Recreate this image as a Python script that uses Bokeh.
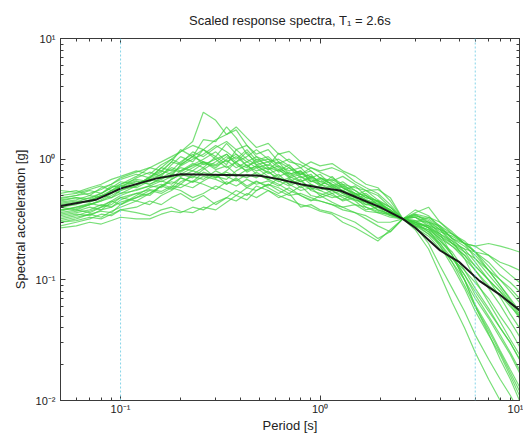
from bokeh.plotting import figure
from bokeh.models import FixedTicker, LogAxis, Span
from bokeh.embed import file_html
from bokeh.resources import INLINE

# Periods [s] at which each scaled record is read
periods = [0.05, 0.06, 0.07, 0.08, 0.09, 0.10, 0.12, 0.14, 0.16, 0.18, 0.20, 0.23, 0.26, 0.30,
           0.34, 0.38, 0.43, 0.48, 0.55, 0.62, 0.70, 0.80, 0.90, 1.0, 1.15, 1.3, 1.5, 1.7, 1.95,
           2.25, 2.6, 3.0, 3.5, 4.0, 4.6, 5.3, 6.0, 7.0, 8.0, 9.0, 10.0]

rec01 = [0.38,0.40,0.42,0.45,0.50,0.55,0.62,0.70,0.85,1.00,1.15,1.40,2.45,2.10,1.60,1.75,1.30,1.10,1.20,0.95,0.85,0.70,0.75,0.62,0.55,0.60,0.50,0.42,0.45,0.36,0.32,0.28,0.20,0.13,0.085,0.055,0.035,0.022,0.015,0.011,0.008]
rec02 = [0.45,0.48,0.47,0.52,0.60,0.58,0.70,0.78,0.72,0.90,1.05,0.95,1.20,1.05,1.35,1.10,0.95,1.05,0.85,0.80,0.90,0.72,0.65,0.70,0.62,0.55,0.60,0.50,0.42,0.38,0.32,0.35,0.30,0.26,0.20,0.17,0.15,0.12,0.10,0.085,0.070]
rec03 = [0.30,0.31,0.33,0.32,0.35,0.38,0.40,0.45,0.42,0.48,0.52,0.45,0.50,0.42,0.48,0.55,0.50,0.60,0.55,0.48,0.52,0.40,0.42,0.38,0.36,0.33,0.30,0.26,0.22,0.25,0.32,0.29,0.25,0.20,0.14,0.09,0.060,0.038,0.025,0.017,0.012]
rec04 = [0.52,0.55,0.50,0.58,0.62,0.68,0.75,0.70,0.85,0.80,0.95,1.10,0.90,1.00,0.85,0.95,1.15,0.90,0.82,0.95,0.75,0.80,0.68,0.60,0.72,0.58,0.50,0.55,0.46,0.40,0.32,0.28,0.26,0.22,0.19,0.15,0.12,0.090,0.075,0.060,0.050]
rec05 = [0.35,0.37,0.40,0.38,0.44,0.48,0.52,0.50,0.60,0.65,0.62,0.75,0.85,0.70,0.80,0.95,0.78,0.85,0.72,0.65,0.70,0.58,0.62,0.55,0.50,0.46,0.52,0.44,0.38,0.35,0.32,0.33,0.28,0.24,0.21,0.18,0.17,0.16,0.14,0.13,0.12]
rec06 = [0.40,0.42,0.46,0.50,0.48,0.55,0.60,0.72,0.80,0.75,0.88,1.00,1.10,1.30,1.15,1.00,1.20,0.98,1.05,0.88,0.80,0.85,0.70,0.75,0.60,0.65,0.55,0.48,0.45,0.40,0.32,0.30,0.27,0.21,0.16,0.11,0.075,0.050,0.035,0.025,0.018]
rec07 = [0.33,0.35,0.34,0.38,0.40,0.44,0.48,0.55,0.52,0.58,0.55,0.48,0.52,0.60,0.55,0.50,0.58,0.65,0.60,0.70,0.62,0.55,0.58,0.50,0.55,0.48,0.42,0.40,0.37,0.34,0.32,0.31,0.30,0.28,0.22,0.17,0.13,0.10,0.080,0.065,0.055]
rec08 = [0.48,0.50,0.55,0.52,0.58,0.65,0.62,0.70,0.78,0.95,1.20,1.05,1.45,1.40,1.85,1.50,1.10,0.95,1.00,0.85,0.75,0.80,0.65,0.68,0.58,0.52,0.48,0.50,0.42,0.36,0.32,0.34,0.32,0.27,0.22,0.19,0.16,0.12,0.09,0.070,0.055]
rec09 = [0.28,0.30,0.32,0.35,0.34,0.38,0.36,0.34,0.38,0.40,0.37,0.36,0.40,0.38,0.44,0.50,0.46,0.55,0.62,0.58,0.52,0.60,0.50,0.48,0.52,0.45,0.48,0.40,0.36,0.35,0.32,0.26,0.18,0.11,0.065,0.040,0.025,0.015,0.010,0.007,0.005]
rec10 = [0.42,0.44,0.48,0.52,0.58,0.62,0.68,0.65,0.75,0.85,0.80,0.92,0.85,1.05,0.90,1.20,1.00,0.90,0.95,0.78,0.85,0.75,0.80,0.70,0.62,0.58,0.52,0.50,0.45,0.37,0.32,0.35,0.33,0.28,0.24,0.20,0.17,0.14,0.11,0.095,0.080]
rec11 = [0.36,0.38,0.36,0.40,0.45,0.42,0.50,0.58,0.62,0.58,0.70,0.65,0.78,0.72,0.68,0.80,0.90,0.75,0.68,0.75,0.62,0.68,0.55,0.52,0.48,0.50,0.45,0.38,0.40,0.36,0.32,0.29,0.26,0.19,0.13,0.085,0.055,0.035,0.024,0.016,0.011]
rec12 = [0.50,0.52,0.56,0.60,0.55,0.62,0.72,0.85,0.80,0.95,0.90,1.05,1.20,1.00,1.10,0.95,1.05,1.20,1.00,0.92,1.00,0.85,0.95,0.88,0.92,0.80,0.72,0.62,0.58,0.45,0.32,0.30,0.33,0.30,0.25,0.20,0.15,0.11,0.085,0.065,0.050]
rec13 = [0.31,0.33,0.35,0.33,0.37,0.40,0.45,0.42,0.50,0.55,0.62,0.58,0.66,0.75,0.62,0.70,0.60,0.66,0.58,0.52,0.58,0.50,0.45,0.50,0.44,0.40,0.42,0.37,0.36,0.33,0.32,0.30,0.25,0.21,0.17,0.12,0.085,0.058,0.040,0.030,0.022]
rec14 = [0.44,0.46,0.50,0.48,0.55,0.60,0.58,0.66,0.72,0.70,0.80,0.88,0.95,0.85,1.00,1.10,0.88,0.80,0.85,0.72,0.78,0.65,0.70,0.62,0.58,0.62,0.52,0.46,0.42,0.38,0.32,0.33,0.29,0.25,0.23,0.20,0.19,0.16,0.13,0.11,0.095]
rec15 = [0.38,0.39,0.42,0.45,0.48,0.52,0.55,0.60,0.58,0.68,0.75,0.70,0.82,0.95,1.10,0.90,0.80,0.88,0.78,0.70,0.65,0.72,0.62,0.58,0.55,0.50,0.46,0.44,0.40,0.34,0.32,0.28,0.24,0.19,0.14,0.10,0.070,0.048,0.033,0.024,0.017]
rec16 = [0.55,0.53,0.58,0.62,0.68,0.72,0.80,0.75,0.90,1.00,0.92,1.15,1.05,1.25,1.40,1.20,1.30,1.05,0.95,1.00,0.88,0.75,0.72,0.65,0.68,0.60,0.55,0.48,0.45,0.38,0.32,0.31,0.27,0.23,0.19,0.16,0.13,0.10,0.080,0.062,0.048]
rec17 = [0.34,0.36,0.38,0.42,0.40,0.46,0.52,0.56,0.54,0.60,0.58,0.66,0.62,0.56,0.65,0.60,0.68,0.62,0.66,0.60,0.68,0.62,0.56,0.60,0.52,0.55,0.48,0.44,0.38,0.35,0.32,0.34,0.31,0.26,0.21,0.15,0.10,0.065,0.045,0.032,0.024]
rec18 = [0.40,0.43,0.45,0.50,0.55,0.52,0.60,0.68,0.75,0.82,0.78,0.90,1.00,1.15,0.95,1.05,0.88,0.95,0.82,0.88,0.72,0.65,0.72,0.65,0.60,0.55,0.50,0.52,0.44,0.37,0.32,0.30,0.27,0.24,0.20,0.16,0.12,0.085,0.062,0.045,0.034]
rec19 = [0.32,0.34,0.37,0.40,0.42,0.48,0.45,0.52,0.60,0.56,0.65,0.72,0.68,0.80,0.72,0.66,0.75,0.70,0.80,0.66,0.60,0.66,0.58,0.55,0.60,0.52,0.46,0.42,0.41,0.36,0.32,0.29,0.28,0.26,0.24,0.21,0.17,0.13,0.10,0.080,0.065]
rec20 = [0.46,0.48,0.45,0.50,0.52,0.58,0.65,0.62,0.70,0.78,0.85,0.80,0.92,0.88,0.98,0.85,0.95,0.85,0.90,0.82,0.72,0.78,0.66,0.62,0.65,0.58,0.52,0.46,0.43,0.38,0.32,0.27,0.23,0.18,0.15,0.12,0.095,0.070,0.050,0.038,0.028]
rec21 = [0.47,0.50,0.52,0.56,0.62,0.70,0.78,0.85,0.95,1.05,1.15,1.30,1.20,1.45,1.60,1.85,1.50,1.25,1.35,1.10,1.16,0.95,0.85,0.80,0.85,0.78,0.65,0.58,0.52,0.42,0.32,0.38,0.34,0.27,0.22,0.20,0.19,0.20,0.19,0.18,0.17]
rec22 = [0.27,0.28,0.30,0.29,0.31,0.33,0.32,0.32,0.35,0.37,0.36,0.40,0.38,0.44,0.48,0.45,0.52,0.48,0.55,0.50,0.46,0.42,0.40,0.37,0.35,0.30,0.27,0.24,0.21,0.26,0.32,0.30,0.27,0.22,0.16,0.10,0.062,0.040,0.026,0.018,0.013]
rec23 = [0.40,0.38,0.42,0.46,0.52,0.60,0.66,0.62,0.68,0.75,0.72,0.80,0.75,0.70,0.78,0.72,0.82,0.88,0.76,0.82,0.70,0.75,0.85,0.78,0.70,0.62,0.58,0.55,0.50,0.40,0.32,0.30,0.28,0.23,0.20,0.18,0.14,0.10,0.072,0.052,0.040]
rec24 = [0.30,0.32,0.35,0.37,0.36,0.42,0.48,0.52,0.60,0.68,0.75,0.85,0.95,0.82,0.88,0.75,0.70,0.78,0.68,0.62,0.55,0.50,0.46,0.45,0.42,0.38,0.36,0.34,0.30,0.30,0.32,0.33,0.30,0.24,0.16,0.10,0.060,0.036,0.022,0.015,0.010]
rec25 = [0.43,0.45,0.44,0.48,0.55,0.58,0.62,0.68,0.65,0.72,0.90,1.05,0.95,0.90,1.05,0.92,0.85,1.00,0.88,1.12,0.95,0.90,0.80,0.70,0.66,0.72,0.62,0.55,0.56,0.48,0.32,0.36,0.40,0.30,0.24,0.20,0.17,0.12,0.090,0.068,0.052]
rec26 = [0.37,0.40,0.43,0.41,0.45,0.50,0.56,0.60,0.66,0.62,0.70,0.64,0.72,0.68,0.62,0.68,0.58,0.55,0.62,0.55,0.50,0.52,0.48,0.45,0.42,0.40,0.36,0.32,0.28,0.25,0.32,0.29,0.24,0.20,0.15,0.11,0.080,0.055,0.040,0.030,0.022]

records = [rec01, rec02, rec03, rec04, rec05, rec06, rec07, rec08, rec09, rec10, rec11, rec12, rec13,
           rec14, rec15, rec16, rec17, rec18, rec19, rec20, rec21, rec22, rec23, rec24, rec25, rec26]

# Target (design) spectrum
target_T = [0.05, 0.075, 0.1, 0.15, 0.2, 0.5, 0.63, 0.8, 1.0, 1.26, 2.0, 2.6, 3.0, 4.0, 5.0, 6.3, 8.0, 10.0]
target_Sa = [0.41, 0.46, 0.57, 0.69, 0.75, 0.73, 0.68, 0.62, 0.58, 0.55, 0.40, 0.32, 0.27, 0.175, 0.14, 0.098, 0.075, 0.056]

# Period range bounds (dashed lines)
bounds = [0.1, 6.0]

x_major = [0.1, 1, 10]
x_minor = [0.05, 0.06, 0.07, 0.08, 0.09, 0.2, 0.3, 0.4, 0.5, 0.6, 0.7, 0.8, 0.9,
           2, 3, 4, 5, 6, 7, 8, 9]
x_labels = {0.1: "10\u207b\u00b9", 1: "10\u2070", 10: "10\u00b9"}
y_major = [0.01, 0.1, 1, 10]
y_minor = [0.02, 0.03, 0.04, 0.05, 0.06, 0.07, 0.08, 0.09, 0.2, 0.3, 0.4, 0.5, 0.6, 0.7, 0.8, 0.9,
           2, 3, 4, 5, 6, 7, 8, 9]
y_labels = {0.01: "10\u207b\u00b2", 0.1: "10\u207b\u00b9", 1: "10\u2070", 10: "10\u00b9"}

FONT = "Liberation Sans"
AX = "#3a3a3a"

p = figure(width=523, height=440, x_axis_type="log", y_axis_type="log",
           x_range=(0.05, 10), y_range=(0.01, 10),
           output_backend="svg", toolbar_location=None,
           title="Scaled response spectra, T\u2081 = 2.6s")
p.min_border_left = 60
p.min_border_right = 4
p.min_border_top = 38
p.min_border_bottom = 40
p.title.align = "center"
p.title.text_font = FONT
p.title.text_font_size = "13px"
p.title.text_font_style = "normal"
p.title.text_color = "#222222"
p.title.standoff = 21
p.background_fill_color = "white"
p.border_fill_color = "white"
p.outline_line_color = AX
p.outline_line_width = 1
p.xgrid.visible = False
p.ygrid.visible = False

for b in bounds:
    p.add_layout(Span(location=b, dimension="height", line_color="#86d4e8",
                      line_width=1, line_dash="2 2"))

p.multi_line(xs=[periods] * len(records), ys=records,
             line_color="#3fd23f", line_alpha=0.7, line_width=1.2)
p.line(target_T, target_Sa, line_color="#1a1a1a", line_width=2)

def style(ax, labels=None):
    ax.axis_line_color = AX
    ax.major_tick_in = 5
    ax.major_tick_out = 0
    ax.minor_tick_in = 3
    ax.minor_tick_out = 0
    ax.major_tick_line_color = AX
    ax.minor_tick_line_color = AX
    ax.major_label_text_font = FONT
    ax.major_label_text_color = "#222222"
    ax.axis_label_text_font = FONT
    ax.axis_label_text_font_style = "normal"
    ax.axis_label_text_font_size = "13px"
    ax.axis_label_text_color = "#222222"
    ax.major_label_text_font_size = "11px"
    if labels is not None:
        ax.major_label_overrides = labels
    else:
        ax.major_label_text_alpha = 0
        ax.major_label_standoff = 0

xt = FixedTicker(ticks=x_major, minor_ticks=x_minor)
yt = FixedTicker(ticks=y_major, minor_ticks=y_minor)

p.xaxis[0].ticker = xt
p.yaxis[0].ticker = yt
style(p.xaxis[0], x_labels)
style(p.yaxis[0], y_labels)
p.xaxis[0].axis_label = "Period [s]"
p.yaxis[0].axis_label = "Spectral acceleration [g]"
p.xaxis[0].major_label_standoff = 2
p.xaxis[0].axis_label_standoff = 0
p.yaxis[0].major_label_standoff = 5
p.yaxis[0].axis_label_standoff = 5

top_ax = LogAxis(ticker=FixedTicker(ticks=x_major, minor_ticks=x_minor))
right_ax = LogAxis(ticker=FixedTicker(ticks=y_major, minor_ticks=y_minor))
style(top_ax)
style(right_ax)
p.add_layout(top_ax, "above")
p.add_layout(right_ax, "right")

open("out.html", "w").write(file_html(p, INLINE))
